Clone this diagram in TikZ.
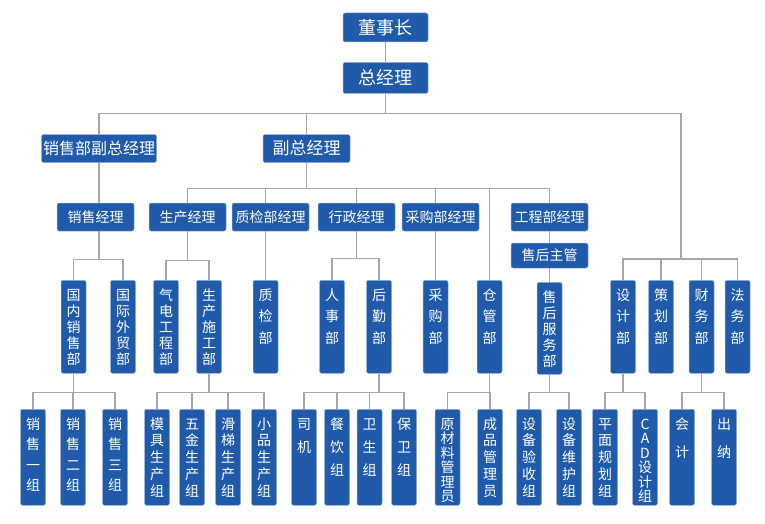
\documentclass[tikz,border=0pt]{standalone}
\usepackage{fontspec}
\setmainfont{Noto Sans CJK SC}
\usepackage{tikz}
\definecolor{boxblue}{RGB}{31,91,170}
\definecolor{boxedge}{RGB}{150,175,215}
\definecolor{linkgray}{RGB}{166,166,166}
% stacked characters for the tall boxes, #1 = line pitch
\newcommand\vtext[2][21.5]{\parbox[t]{18pt}{\centering\fontsize{14}{#1}\selectfont #2\par}}

\begin{document}
\begin{tikzpicture}[
    x=1pt, y=-1pt,
    hbox/.style={rectangle, rounded corners=2pt, draw=boxedge, fill=boxblue,
                 text=white, line width=0.5pt, inner sep=0pt},
    chief/.style={hbox, minimum width=85pt, minimum height=29pt,
                  font=\fontsize{18}{18}\selectfont},
    vp/.style={hbox, minimum width=87pt, minimum height=28pt,
               font=\fontsize{16}{16}\selectfont},
    mgr/.style={hbox, minimum width=77pt, minimum height=28pt,
                font=\fontsize{14}{14}\selectfont},
    dept/.style={hbox, anchor=north, minimum width=25pt,
                 text height=20pt, text depth=73pt},
    team/.style={dept, text depth=76pt},
    link/.style={draw=linkgray, line width=1.5pt}
]
    \useasboundingbox (0,0) rectangle (765,524);

    % top
    \node[chief] (dsz) at (385.5,27.5) {董事长};
    \node[chief, minimum height=31pt] (zjl) at (385.5,78) {总经理};
    \node[vp, minimum width=115pt] (xsf) at (99,148.5) {销售部副总经理};
    \node[vp, font=\fontsize{17}{17}\selectfont] (fzj) at (306.5,148.5) {副总经理};
    \coordinate (jr) at (681,259);

    % managers
    \node[mgr] (xsjl) at (95.5,217)  {销售经理};
    \node[mgr] (scjl) at (187.5,217) {生产经理};
    \node[mgr] (zjjl) at (270.5,217) {质检部经理};
    \node[mgr] (xzjl) at (356.5,217) {行政经理};
    \node[mgr] (cgjl) at (440.5,217) {采购部经理};
    \node[mgr] (gcjl) at (549.5,217) {工程部经理};
    \node[mgr, minimum height=25pt] (shzg) at (549.5,255.5) {售后主管};

    % departments
    \node[dept] (gnb) at (73.5,280)  {\vtext[16]{国\\内\\销\\售\\部}};
    \node[dept] (gjb) at (123,280)   {\vtext[16]{国\\际\\外\\贸\\部}};
    \node[dept] (qdb) at (166,280)   {\vtext[16]{气\\电\\工\\程\\部}};
    \node[dept] (scb) at (209,280)   {\vtext[16]{生\\产\\施\\工\\部}};
    \node[dept] (zjb) at (265.5,280) {\vtext{质\\检\\部}};
    \node[dept] (rsb) at (332,280)   {\vtext{人\\事\\部}};
    \node[dept] (hqb) at (379,280)   {\vtext{后\\勤\\部}};
    \node[dept] (cgb) at (435.5,280) {\vtext{采\\购\\部}};
    \node[dept] (ckb) at (489.5,280) {\vtext{仓\\管\\部}};
    \node[dept, text depth=72pt] (shb) at (549.5,282) {\vtext[16]{售\\后\\服\\务\\部}};
    \node[dept] (sjb) at (623,280)   {\vtext{设\\计\\部}};
    \node[dept] (chb) at (661,280)   {\vtext{策\\划\\部}};
    \node[dept] (cwb) at (701.5,280) {\vtext{财\\务\\部}};
    \node[dept] (fwb) at (737.5,280) {\vtext{法\\务\\部}};

    % teams
    \node[team] (xs1) at (33,409)    {\vtext[20.5]{销\\售\\一\\组}};
    \node[team] (xs2) at (73,409)    {\vtext[20.5]{销\\售\\二\\组}};
    \node[team] (xs3) at (115,409)   {\vtext[20.5]{销\\售\\三\\组}};
    \node[team] (mj)  at (157,409)   {\vtext[16.7]{模\\具\\生\\产\\组}};
    \node[team] (wj)  at (192,409)   {\vtext[16.7]{五\\金\\生\\产\\组}};
    \node[team] (ht)  at (228,409)   {\vtext[16.7]{滑\\梯\\生\\产\\组}};
    \node[team] (xp)  at (264,409)   {\vtext[16.7]{小\\品\\生\\产\\组}};
    \node[team] (sj)  at (304,409)   {\vtext[23]{司\\机}};
    \node[team] (cy)  at (337,409)   {\vtext[23]{餐\\饮\\组}};
    \node[team] (ws)  at (369.5,409) {\vtext[23]{卫\\生\\组}};
    \node[team] (bw)  at (404,409)   {\vtext[23]{保\\卫\\组}};
    \node[team] (ycl) at (447.5,409) {\vtext[14.5]{原\\材\\料\\管\\理\\员}};
    \node[team] (cp)  at (490,409)   {\vtext[16.7]{成\\品\\管\\理\\员}};
    \node[team] (ys)  at (529,409)   {\vtext[16.7]{设\\备\\验\\收\\组}};
    \node[team] (wh)  at (569,409)   {\vtext[16.7]{设\\备\\维\\护\\组}};
    \node[team] (pm)  at (605,409)   {\vtext[16.7]{平\\面\\规\\划\\组}};
    \node[team] (cad) at (645,409)   {\vtext[14.5]{C\\A\\D\\设\\计\\组}};
    \node[team] (kj)  at (682,409)   {\vtext[28]{会\\计}};
    \node[team] (cn)  at (724,409)   {\vtext[28]{出\\纳}};

    % links
    \draw[link] (dsz) -- (zjl);
    \foreach \n in {xsf,fzj}
        \draw[link] (zjl.south) -- ++(0,20) -| (\n.north);
    \draw[link] (zjl.south) -- ++(0,20) -| (jr);
    \foreach \n in {sjb,chb,cwb,fwb}
        \draw[link] (jr) -| (\n.north);

    \draw[link] (xsf.south) -- (xsf.south |- xsjl.north);
    \foreach \n in {gnb,gjb}
        \draw[link] (xsf.south |- xsjl.south) -- ++(0,28) -| (\n.north);

    \foreach \n in {scjl,xzjl,gcjl,ckb}
        \draw[link] (fzj.south) -- ++(0,25.5) -| (\n.north);
    \draw[link] (fzj.south) -- ++(0,25.5) -| (zjb.north |- zjjl.north);
    \draw[link] (zjb.north |- zjjl.south) -- (zjb.north);
    \draw[link] (fzj.south) -- ++(0,25.5) -| (cgb.north |- cgjl.north);
    \draw[link] (cgb.north |- cgjl.south) -- (cgb.north);

    \foreach \n in {qdb,scb}
        \draw[link] (scjl.south) -- ++(0,29) -| (\n.north);
    \foreach \n in {rsb,hqb}
        \draw[link] (xzjl.south) -- ++(0,27) -| (\n.north);
    \draw[link] (gcjl) -- (shzg);
    \draw[link] (shzg) -- (shb);

    \foreach \n in {xs1,xs2,xs3}
        \draw[link] (gnb.south) -- ++(0,19) -| (\n.north);
    \foreach \n in {mj,wj,ht,xp}
        \draw[link] (scb.south) -- ++(0,19) -| (\n.north);
    \foreach \n in {sj,cy,ws,bw}
        \draw[link] (hqb.south) -- ++(0,19) -| (\n.north);
    \foreach \n in {ycl,cp}
        \draw[link] (ckb.south) -- ++(0,19) -| (\n.north);
    \foreach \n in {ys,wh}
        \draw[link] (shb.south) -- ++(0,18) -| (\n.north);
    \foreach \n in {pm,cad}
        \draw[link] (sjb.south) -- ++(0,19) -| (\n.north);
    \foreach \n in {kj,cn}
        \draw[link] (cwb.south) -- ++(0,19) -| (\n.north);
\end{tikzpicture}
\end{document}
